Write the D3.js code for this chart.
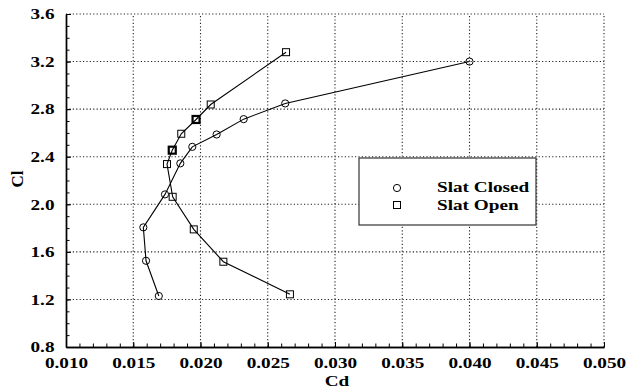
<!DOCTYPE html>
<html>
<head>
<meta charset="utf-8">
<script src="https://cdn.jsdelivr.net/npm/d3@7"></script>
<style>
  html, body { margin: 0; padding: 0; background: #fff; }
  svg { display: block; }
</style>
</head>
<body>
<svg id="chart"></svg>
<script>
// Cl vs Cd polar, slat closed / open
const xTicks = [0.010, 0.015, 0.020, 0.025, 0.030, 0.035, 0.040, 0.045, 0.050];
const yTicks = [0.8, 1.2, 1.6, 2.0, 2.4, 2.8, 3.2, 3.6];

const closedCd = [0.0169, 0.01595, 0.01575, 0.01736, 0.0185, 0.01939, 0.0212, 0.02321, 0.0263, 0.0400];
const closedCl = [1.229, 1.525, 1.806, 2.083, 2.344, 2.483, 2.587, 2.716, 2.848, 3.200];

const openCd = [0.02665, 0.0217, 0.0195, 0.01793, 0.01751, 0.0179, 0.01857, 0.01967, 0.02076, 0.02636];
const openCl = [1.243, 1.517, 1.789, 2.063, 2.338, 2.455, 2.593, 2.713, 2.839, 3.279];

const seriesNames = ["Slat Closed", "Slat Open"];

const W = 640, H = 389;
const FONT = "'Liberation Serif', 'Times New Roman', serif";
const STRETCH = "scale(1.28,1)";

const svg = d3.select("#chart").attr("width", W).attr("height", H);

const x = d3.scaleLinear().domain([0.010, 0.050]).range([66, 604]);
const y = d3.scaleLinear().domain([0.8, 3.6]).range([347, 14]);

// dotted grid (also draws top + right frame)
const grid = svg.append("g")
  .attr("stroke", "#222").attr("stroke-width", 1.1).attr("stroke-dasharray", "1.2,2.2");
grid.selectAll(".gx").data(xTicks.slice(1)).join("line")
  .attr("x1", d => x(d)).attr("x2", d => x(d))
  .attr("y1", y(0.8)).attr("y2", y(3.6));
grid.selectAll(".gy").data(yTicks.slice(1)).join("line")
  .attr("x1", x(0.010)).attr("x2", x(0.050))
  .attr("y1", d => y(d)).attr("y2", d => y(d));

// minor ticks (inside)
const minorX = d3.range(10, 51).map(i => i / 1000);
const minorY = d3.range(8, 37).map(i => i / 10);

const xAxis = svg.append("g").attr("transform", `translate(0,${y(0.8)})`)
  .call(d3.axisBottom(x).tickValues(xTicks).tickFormat(d3.format(".3f")).tickSize(-5).tickSizeOuter(0).tickPadding(10));
svg.append("g").attr("transform", `translate(0,${y(0.8)})`)
  .call(d3.axisBottom(x).tickValues(minorX).tickFormat("").tickSize(-3.5).tickSizeOuter(0));

const yAxis = svg.append("g").attr("transform", `translate(${x(0.010)},0)`)
  .call(d3.axisLeft(y).tickValues(yTicks).tickFormat(d3.format(".1f")).tickSize(-5).tickSizeOuter(0).tickPadding(11));
svg.append("g").attr("transform", `translate(${x(0.010)},0)`)
  .call(d3.axisLeft(y).tickValues(minorY).tickFormat("").tickSize(-3.5).tickSizeOuter(0));

svg.selectAll(".domain").attr("stroke", "#000").attr("stroke-width", 1.4);
svg.selectAll(".tick line").attr("stroke", "#000");

xAxis.selectAll("text")
  .attr("font-family", FONT).attr("font-weight", "bold").attr("font-size", 15)
  .attr("fill", "#000").attr("transform", STRETCH);
yAxis.selectAll("text")
  .attr("font-family", FONT).attr("font-weight", "bold").attr("font-size", 15)
  .attr("fill", "#000").attr("x", -9).attr("transform", STRETCH);

// axis titles
svg.append("text")
  .attr("transform", `translate(337,386) ${STRETCH}`)
  .attr("text-anchor", "middle")
  .attr("font-family", FONT).attr("font-weight", "bold").attr("font-size", 15)
  .text("Cd");
svg.append("text")
  .attr("transform", "translate(23,179) rotate(-90)")
  .attr("text-anchor", "middle")
  .attr("font-family", FONT).attr("font-weight", "bold").attr("font-size", 17)
  .text("Cl");

// series
const closed = closedCd.map((cd, i) => ({ cd, cl: closedCl[i] }));
const open = openCd.map((cd, i) => ({ cd, cl: openCl[i] }));
const line = d3.line().x(d => x(d.cd)).y(d => y(d.cl));

svg.append("path").datum(closed).attr("d", line)
  .attr("fill", "none").attr("stroke", "#000").attr("stroke-width", 1.1);
svg.append("path").datum(open).attr("d", line)
  .attr("fill", "none").attr("stroke", "#000").attr("stroke-width", 1.1);

svg.append("g").selectAll("circle").data(closed).join("circle")
  .attr("cx", d => x(d.cd)).attr("cy", d => y(d.cl)).attr("r", 3.6)
  .attr("fill", "none").attr("stroke", "#000").attr("stroke-width", 1);

const heavy = new Set([5, 7]);
const S = 7;
svg.append("g").selectAll("rect").data(open).join("rect")
  .attr("x", d => x(d.cd) - S / 2).attr("y", d => y(d.cl) - S / 2)
  .attr("width", S).attr("height", S)
  .attr("fill", "none").attr("stroke", "#000")
  .attr("stroke-width", (d, i) => heavy.has(i) ? 2.2 : 1);

// legend
const lg = svg.append("g");
lg.append("rect").attr("x", 359).attr("y", 158).attr("width", 177).attr("height", 67)
  .attr("fill", "#fff").attr("stroke", "#333").attr("stroke-width", 1.2);
lg.append("circle").attr("cx", 397).attr("cy", 188).attr("r", 3.6)
  .attr("fill", "none").attr("stroke", "#000");
lg.append("rect").attr("x", 397 - S / 2).attr("y", 205 - S / 2).attr("width", S).attr("height", S)
  .attr("fill", "none").attr("stroke", "#000");
lg.selectAll("text").data(seriesNames).join("text")
  .attr("transform", (d, i) => `translate(437,${192 + i * 18}) ${STRETCH}`)
  .attr("font-family", FONT).attr("font-weight", "bold").attr("font-size", 15)
  .text(d => d);
</script>
</body>
</html>
